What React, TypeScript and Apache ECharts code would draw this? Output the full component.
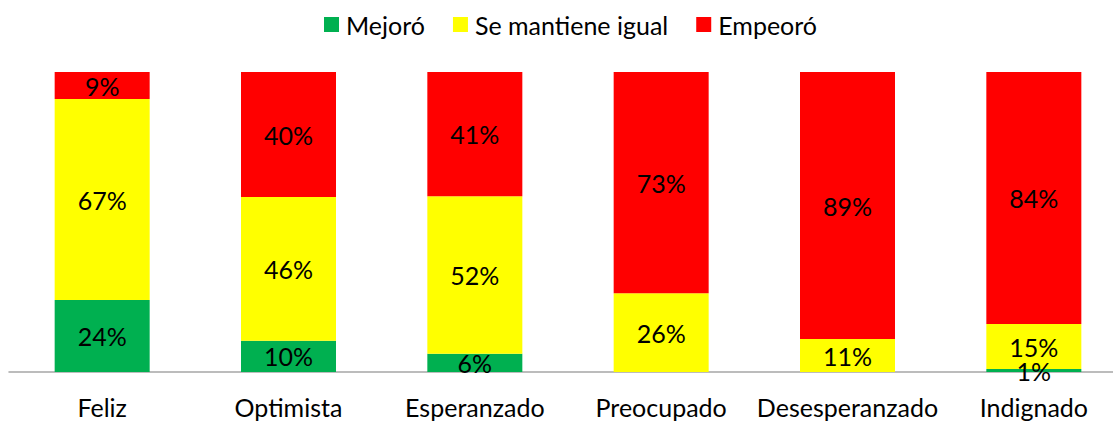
import React, { useEffect, useRef } from "react";
import * as echarts from "echarts";

const categories = ["Feliz", "Optimista", "Esperanzado", "Preocupado", "Desesperanzado", "Indignado"];
const mejoro: (number | null)[] = [24, 10, 6, null, null, 1];
const seMantiene: (number | null)[] = [67, 46, 52, 26, 11, 15];
const empeoro: (number | null)[] = [9, 40, 41, 73, 89, 84];

const seriesNames = ["Mejoró", "Se mantiene igual", "Empeoró"];
const seriesColors = ["#00B050", "#FFFF00", "#FF0000"];
const FONT = "Lato";

export default function App() {
  const ref = useRef<HTMLDivElement>(null);
  useEffect(() => {
    if (!ref.current) return;
    const chart = echarts.init(ref.current, null, { renderer: "svg" });
    const all = [mejoro, seMantiene, empeoro];
    const totals = categories.map((_, i) => all.reduce((s, arr) => s + (arr[i] ?? 0), 0));
    const series = all.map((arr, si) => ({
      name: seriesNames[si],
      type: "bar",
      stack: "total",
      barWidth: 95,
      itemStyle: { color: seriesColors[si] },
      label: {
        show: true,
        position: "inside",
        color: "#000",
        fontFamily: FONT,
        fontSize: 25,
        formatter: (p: any) => (p.data && p.data.raw != null ? p.data.raw + "%" : ""),
      },
      data: arr.map((v, i) =>
        v == null ? { value: 0, raw: null } : { value: (v / totals[i]) * 100, raw: v }
      ),
    }));
    chart.setOption({
      animation: false,
      legend: {
        left: 319,
        top: 7,
        itemWidth: 15,
        itemHeight: 15,
        itemGap: 28,
        icon: "rect",
        textStyle: { fontFamily: FONT, fontSize: 25, color: "#000", padding: [0, 0, 0, 2] },
        data: seriesNames,
      },
      grid: { left: 9, right: 3, top: 72, bottom: 51 },
      xAxis: {
        type: "category",
        data: categories,
        axisLine: { lineStyle: { color: "#A6A6A6", width: 1.5 } },
        axisTick: { show: false },
        axisLabel: { interval: 0, fontFamily: FONT, fontSize: 25, color: "#000", margin: 22 },
      },
      yAxis: { type: "value", min: 0, max: 100, show: false, splitLine: { show: false } },
      series,
    });
    return () => chart.dispose();
  }, []);
  return (
    <div style={{ position: "fixed", left: 0, top: 0, width: 1113, height: 423, overflow: "hidden", background: "#fff" }}>
      <div ref={ref} style={{ width: 1130, height: 423 }} />
    </div>
  );
}
